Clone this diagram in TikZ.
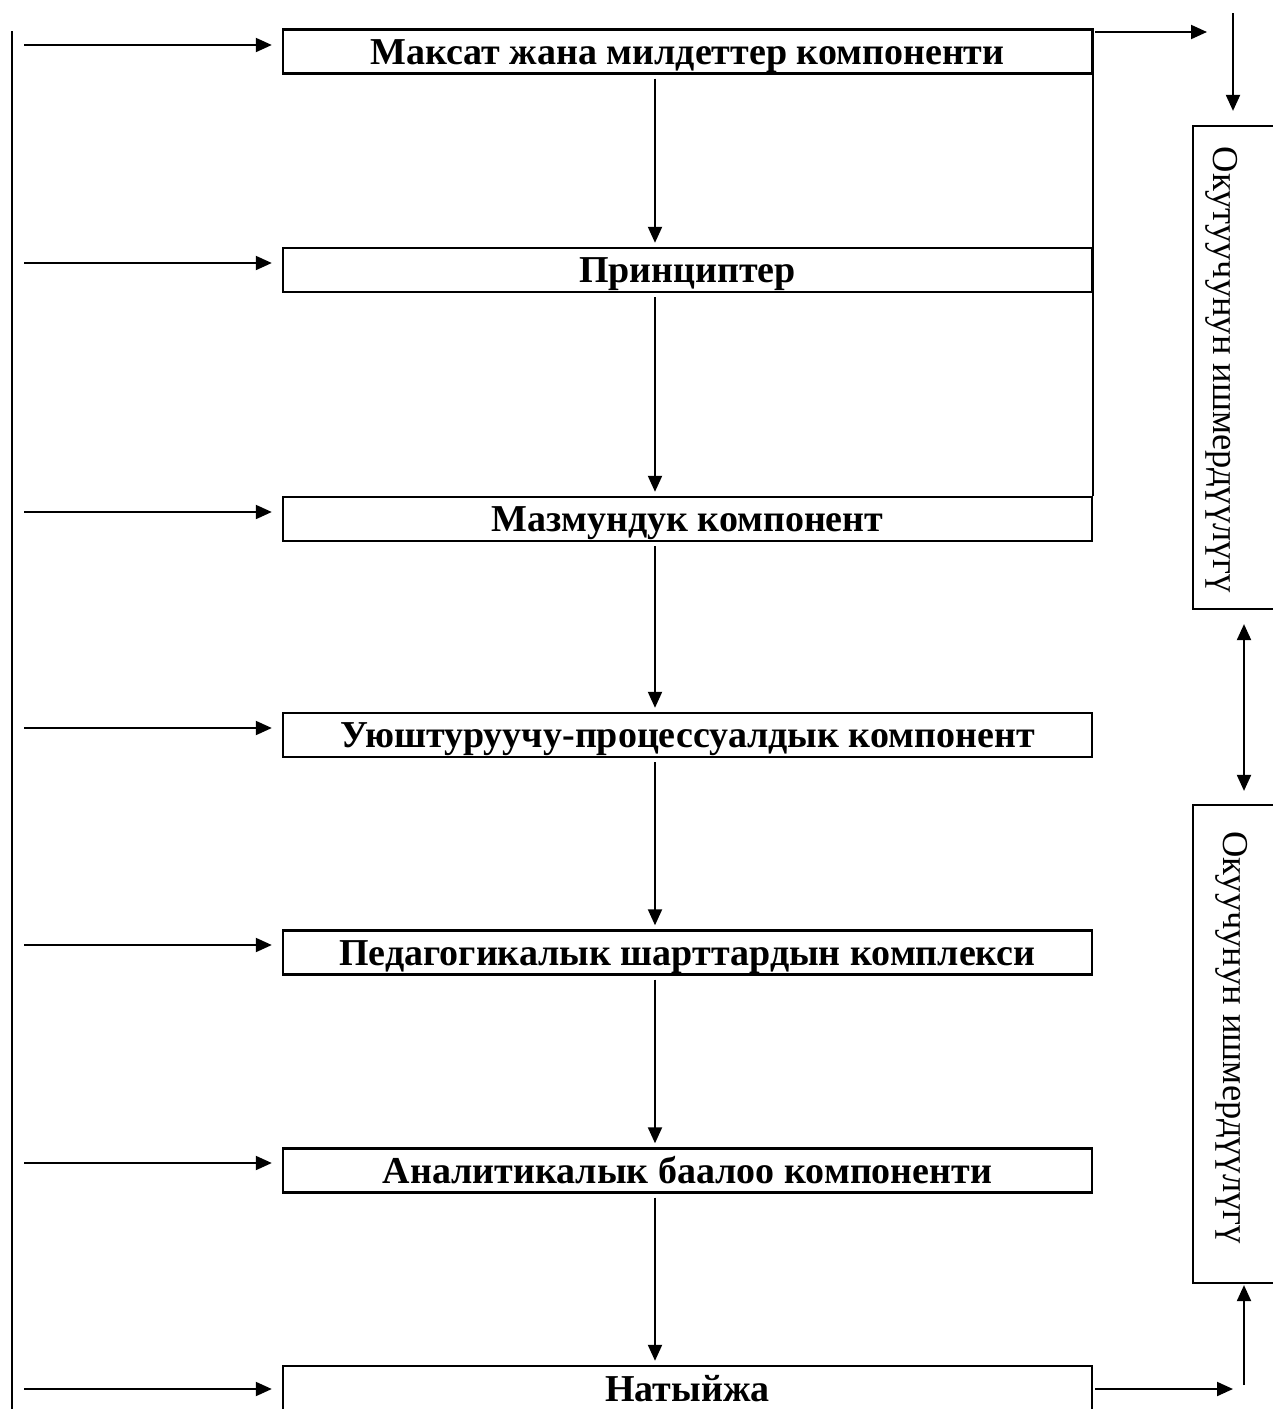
\documentclass[tikz,border=0pt]{standalone}
\usepackage{fontspec}
\setmainfont{Liberation Serif}
\usetikzlibrary{arrows.meta}
\tikzset{
  comp/.style={draw, line width=2.4pt, minimum width=809pt, minimum height=44pt, inner sep=0pt,
    text height=25pt, text depth=0pt, font=\fontsize{38}{40}\selectfont\bfseries},
  sidebox/.style={draw, line width=2.2pt, inner sep=0pt, minimum width=102pt},
  sidetext/.style={rotate=-90, anchor=base, inner sep=0pt, font=\fontsize{36.5}{38}\selectfont},
  arr/.style={line width=2pt, -{Triangle[length=16pt,width=14pt]}},
  arrboth/.style={line width=2pt, {Triangle[length=16pt,width=14pt]}-{Triangle[length=16pt,width=14pt]}},
  plainline/.style={line width=2.4pt}
}
\begin{document}
\begin{tikzpicture}[x=1pt,y=-1pt]
\useasboundingbox (0,0) rectangle (1273,1409);
\clip (0,0) rectangle (1273,1409);
\node[comp] (b1) at (687.5,51.5) {Максат жана милдеттер компоненти};
\node[comp] (b2) at (687.5,270) {Принциптер};
\node[comp] (b3) at (687.5,519) {Мазмундук компонент};
\node[comp] (b4) at (687.5,735) {Уюштуруучу-процессуалдык компонент};
\node[comp] (b5) at (687.5,952.5) {Педагогикалык шарттардын комплекси};
\node[comp] (b6) at (687.5,1170.5) {Аналитикалык баалоо компоненти};
\node[comp, minimum height=46pt] (b7) at (687.5,1389) {Натыйжа};

\node[sidebox, minimum height=483pt] (bA) at (1244,367.5) {};
\node[sidebox, minimum height=478pt] (bB) at (1244,1044) {};
\node[sidetext] (tA) at (1213,370) {Окутуучунун ишмердүүлүгү};
\node[sidetext] (tB) at (1223,1037.5) {Окуучунун ишмердүүлүгү};

\coordinate (ltop) at (12,31);
\coordinate (lbot) at (12,1420);
\draw[plainline] (ltop) -- (lbot);
\foreach \i/\y in {1/45,2/263,3/512,4/728,5/945,6/1163,7/1389}{
  \coordinate (l\i) at (24,\y);
  \draw[arr, shorten >=10pt] (l\i) -- (l\i -| b\i.west);
}
\foreach \a/\b in {b1/b2,b2/b3,b3/b4,b4/b5,b5/b6,b6/b7}{
  \draw[arr, shorten <=4pt, shorten >=4pt] ([xshift=-32.5pt]\a.south) -- ([xshift=-32.5pt]\b.north);
}
\draw[plainline] (b1.north east) -- (b3.north east);

\coordinate (tr) at (1207,32);
\draw[arr] ([xshift=2pt]b1.north east |- tr) -- (tr);
\coordinate (vt) at (1233,13);
\draw[arr, shorten >=14pt] (vt) -- (vt |- bA.north);
\draw[arrboth, shorten <=14pt, shorten >=13pt] (bA.south) -- (bB.north);
\coordinate (bu) at (1244,1385);
\draw[arr, shorten >=1pt] (bu) -- (bB.south);
\coordinate (br) at (1233,1389);
\draw[arr] ([xshift=2pt]b7.east) -- (br);
\end{tikzpicture}
\end{document}
